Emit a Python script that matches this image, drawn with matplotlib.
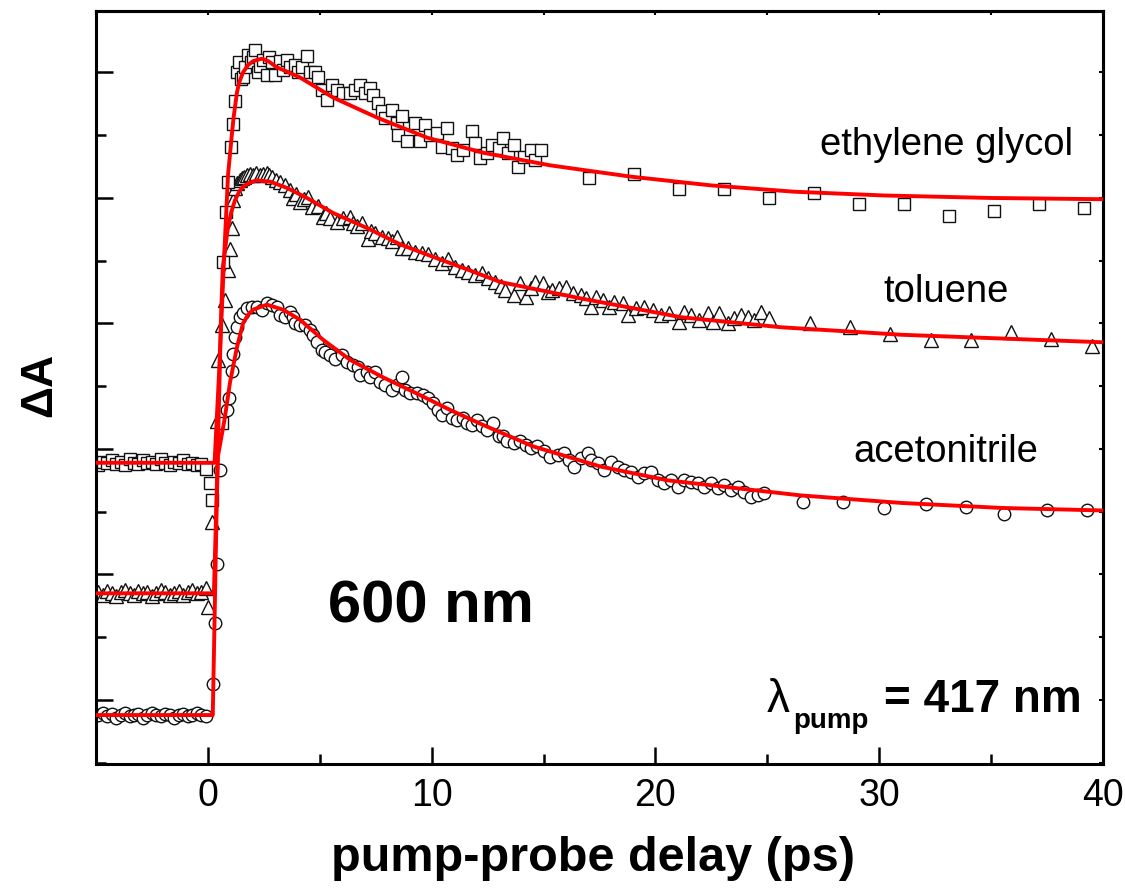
import numpy as np
import matplotlib
matplotlib.use("Agg")
import matplotlib.pyplot as plt
from matplotlib.ticker import MultipleLocator, NullFormatter

plt.rcParams['font.family'] = ['Liberation Sans', 'DejaVu Sans']

# --- data (probe 600 nm) ---
# ethylene glycol (squares)
eg_t = [-4.9, -4.7, -4.5, -4.3, -4.1, -3.9, -3.7, -3.5, -3.3, -3.1, -2.9, -2.7, -2.5,
        -2.3, -2.1, -1.9, -1.7, -1.5, -1.3, -1.1, -0.9, -0.7, -0.5, -0.3, -0.1,
        0.09, 0.18, 0.63, 0.67, 0.81, 0.90, 1.03, 1.12, 1.21, 1.30, 1.39, 1.48, 1.57,
        1.66, 1.79, 1.93, 2.00, 2.10, 2.24, 2.35, 2.46, 2.64, 2.75, 2.87, 3.00, 3.22,
        3.35, 3.54, 3.67, 3.90, 4.05, 4.21, 4.43, 4.57, 4.79, 4.93, 5.10, 5.33, 5.55,
        5.78, 6.05, 6.36, 6.58, 6.81, 7.03, 7.25, 7.39, 7.61, 7.79, 7.93, 8.24, 8.46,
        8.51, 8.69, 8.91, 9.27, 9.49, 9.72, 9.94, 10.26, 10.48, 10.70, 10.93, 11.15,
        11.42, 11.82, 11.96, 12.18, 12.49, 12.72, 12.99, 13.21, 13.43, 13.66, 13.88,
        14.11, 14.42, 14.64, 14.87,
        17.03, 19.05, 21.05, 23.06, 25.07, 27.08, 29.09, 31.10, 33.11, 35.12, 37.13, 39.14]
eg_dA = [1.87, 1.90, 1.89, 1.91, 1.88, 1.90, 1.87, 1.92, 1.89, 1.88, 1.91, 1.89, 1.90,
         1.88, 1.92, 1.89, 1.87, 1.90, 1.89, 1.91, 1.88, 1.89, 1.87, 1.88, 1.84,
         1.73, 1.59, 2.21, 3.49, 3.89, 4.13, 4.41, 4.59, 4.77, 5.00, 5.08, 4.95, 4.96,
         5.04, 5.14, 5.08, 5.12, 5.18, 5.00, 5.05, 5.10, 4.98, 5.12, 5.08, 4.98, 5.09,
         5.02, 5.10, 5.04, 5.06, 5.00, 5.04, 5.13, 5.00, 5.00, 4.96, 4.86, 4.78, 4.90,
         4.86, 4.84, 4.84, 4.86, 4.90, 4.84, 4.88, 4.82, 4.76, 4.69, 4.64, 4.70, 4.60,
         4.50, 4.65, 4.45, 4.60, 4.45, 4.58, 4.50, 4.52, 4.41, 4.56, 4.40, 4.34,
         4.38, 4.53, 4.44, 4.32, 4.36, 4.42, 4.40, 4.48, 4.36, 4.42, 4.25,
         4.33, 4.38, 4.30, 4.38,
         4.16, 4.19, 4.07, 4.07, 4.00, 4.04, 3.95, 3.95, 3.86, 3.90, 3.95, 3.92]

# toluene (triangles)
tol_t = [-4.9, -4.7, -4.5, -4.3, -4.1, -3.9, -3.7, -3.5, -3.3, -3.1, -2.9, -2.7, -2.5,
         -2.3, -2.1, -1.9, -1.7, -1.5, -1.3, -1.1, -0.9, -0.7, -0.5, -0.3, -0.1,
         0.00, 0.18, 0.40, 0.45, 0.63, 0.76, 0.90, 0.99, 1.07, 1.12, 1.21, 1.30, 1.43,
         1.52, 1.63, 1.75, 1.88, 2.02, 2.17, 2.33, 2.48, 2.64, 2.75, 2.87, 3.05, 3.22,
         3.45, 3.67, 3.81, 3.95, 4.12, 4.30, 4.48, 4.66, 4.93, 5.15, 5.30, 5.46, 5.78,
         6.05, 6.36, 6.50, 6.67, 6.90, 7.17, 7.30, 7.48, 7.79, 8.06, 8.25, 8.46, 8.69,
         8.96, 9.27, 9.58, 9.85, 10.17, 10.48, 10.75, 11.06, 11.37, 11.64, 11.96, 12.27,
         12.54, 12.85, 13.10, 13.30, 13.66, 13.97, 14.20, 14.42, 14.64, 14.96, 15.20,
         15.40, 15.67, 15.99, 16.30, 16.66, 16.90, 17.10, 17.33, 17.64, 17.91, 18.14,
         18.54, 18.76, 19.12, 19.48, 19.88, 20.24, 20.60, 21.05, 21.27, 21.59, 21.94,
         22.35, 22.57, 22.84, 23.24, 23.51, 23.82, 24.14, 24.41, 24.72, 25.08,
         26.9, 28.7, 30.5, 32.3, 34.1, 35.9, 37.7, 39.5]
tol_dA = [0.86, 0.84, 0.87, 0.85, 0.83, 0.86, 0.88, 0.85, 0.84, 0.87, 0.85, 0.86, 0.83,
          0.85, 0.88, 0.86, 0.84, 0.85, 0.87, 0.84, 0.86, 0.88, 0.85, 0.86, 0.89,
          0.74, 1.42, 2.22, 2.71, 2.99, 3.19, 3.43, 3.59, 3.76, 3.98, 4.08, 4.12, 4.14,
          4.16, 4.17, 4.18, 4.19, 4.18, 4.20, 4.18, 4.19, 4.20, 4.18, 4.17, 4.14, 4.13,
          4.10, 4.06, 4.00, 4.03, 3.97, 3.99, 4.01, 3.93, 3.94, 3.85, 3.88, 3.84, 3.81,
          3.84, 3.85, 3.80, 3.78, 3.80, 3.67, 3.74, 3.72, 3.69, 3.68, 3.66, 3.69, 3.60,
          3.60, 3.57, 3.56, 3.55, 3.51, 3.48, 3.51, 3.45, 3.43, 3.41, 3.39, 3.40,
          3.36, 3.33, 3.30, 3.27, 3.23, 3.32, 3.21, 3.28, 3.33, 3.32, 3.25,
          3.27, 3.28, 3.29, 3.24, 3.23, 3.20, 3.13, 3.21, 3.19, 3.13, 3.17,
          3.16, 3.07, 3.12, 3.13, 3.11, 3.07, 3.08, 3.01, 3.09, 3.07, 3.03,
          3.08, 3.01, 3.08, 3.00, 3.04, 3.07, 3.05, 3.03, 3.09, 3.04,
          3.00, 2.97, 2.92, 2.87, 2.87, 2.93, 2.88, 2.82]

# acetonitrile (circles)
ace_t = [-4.9, -4.7, -4.5, -4.3, -4.1, -3.9, -3.7, -3.5, -3.3, -3.1, -2.9, -2.7, -2.5,
         -2.3, -2.1, -1.9, -1.7, -1.5, -1.3, -1.1, -0.9, -0.7, -0.5, -0.3, -0.1,
         0.22, 0.31, 0.40, 0.54, 0.85, 0.94, 1.07, 1.12, 1.21, 1.30, 1.43, 1.57, 1.75,
         1.97, 2.19, 2.42, 2.64, 2.87, 3.09, 3.22, 3.45, 3.67, 3.81, 3.90, 4.12, 4.34,
         4.57, 4.70, 4.88, 5.10, 5.24, 5.46, 5.69, 6.00, 6.22, 6.49, 6.72, 6.81, 7.12,
         7.25, 7.48, 7.70, 7.93, 8.24, 8.46, 8.69, 8.80, 9.05, 9.36, 9.63, 9.85, 10.08,
         10.30, 10.48, 10.70, 10.93, 11.15, 11.42, 11.60, 11.82, 12.05, 12.27, 12.49,
         12.76, 12.99, 13.20, 13.39, 13.66, 13.97, 14.20, 14.42, 14.73, 15.00, 15.31,
         15.63, 15.90, 16.12, 16.35, 16.66, 16.97, 17.10, 17.42, 17.69, 18.00, 18.32,
         18.58, 18.90, 19.21, 19.48, 19.79, 20.10, 20.38, 20.69, 21.00, 21.27, 21.59,
         21.90, 22.17, 22.48, 22.79, 23.06, 23.38, 23.69, 23.96, 24.27, 24.59, 24.85,
         26.6, 28.4, 30.2, 32.1, 33.9, 35.6, 37.5, 39.3]
ace_dA = [-0.12, -0.10, -0.13, -0.11, -0.14, -0.12, -0.10, -0.13, -0.12, -0.11, -0.14,
          -0.12, -0.10, -0.12, -0.13, -0.11, -0.12, -0.14, -0.12, -0.11, -0.13, -0.12,
          -0.10, -0.12, -0.13,
          0.13, 0.61, 1.08, 1.83, 2.31, 2.41, 2.62, 2.76, 2.89, 2.97, 3.05, 3.08, 3.12,
          3.13, 3.13, 3.11, 3.16, 3.15, 3.13, 3.07, 3.05, 3.09, 3.05, 3.00, 2.99, 2.99,
          2.95, 2.91, 2.85, 2.79, 2.77, 2.75, 2.72, 2.75, 2.69, 2.67, 2.65, 2.59, 2.61,
          2.57, 2.61, 2.53, 2.51, 2.47, 2.51, 2.57, 2.47, 2.45, 2.45, 2.43, 2.41, 2.37,
          2.31, 2.27, 2.33, 2.25, 2.23, 2.25, 2.21, 2.19, 2.23, 2.18, 2.15,
          2.21, 2.10, 2.10, 2.06, 2.05, 2.06, 2.03, 2.01, 2.02, 1.98, 1.94,
          1.95, 1.97, 1.91, 1.86, 1.93, 1.97, 1.91, 1.89, 1.83, 1.90, 1.86,
          1.83, 1.82, 1.78, 1.81, 1.82, 1.75, 1.73, 1.75, 1.70, 1.75, 1.74,
          1.73, 1.70, 1.73, 1.69, 1.71, 1.67, 1.70, 1.66, 1.62, 1.63, 1.65,
          1.58, 1.58, 1.53, 1.56, 1.54, 1.48, 1.51, 1.51]

# fitted curves (red)
eg_fit_t = [-5, 0.30, 0.50, 0.72, 0.90, 1.07, 1.15, 1.30, 1.40, 1.57, 1.80, 2.02, 2.20,
            2.42, 2.70, 3.09, 3.50, 4.12, 5.60, 7.57, 9.81, 12.32, 15.3, 18.9, 22.5,
            26.2, 30.2, 35.0, 40]
eg_fit_dA = [1.89, 1.89, 2.60, 3.50, 4.18, 4.50, 4.64, 4.84, 4.92, 5.00, 5.06, 5.09, 5.10,
             5.11, 5.09, 5.04, 5.01, 4.96, 4.80, 4.64, 4.48, 4.36, 4.26, 4.17, 4.10,
             4.05, 4.02, 4.00, 3.99]

tol_fit_t = [-5, 0.27, 0.45, 0.58, 0.67, 0.90, 1.05, 1.21, 1.40, 1.57, 1.85, 2.19, 2.78,
             3.54, 4.43, 5.60, 7.12, 8.60, 10.08, 11.6, 13.08, 16.66, 21.14, 25.6, 31.0,
             35.5, 40]
tol_fit_dA = [0.85, 0.85, 2.00, 3.00, 3.45, 3.77, 3.89, 3.98, 4.05, 4.09, 4.12, 4.14, 4.13,
              4.08, 4.00, 3.88, 3.76, 3.63, 3.53, 3.43, 3.33, 3.20, 3.05, 2.97, 2.91,
              2.88, 2.85]

ace_fit_t = [-5, 0.22, 0.40, 0.45, 0.76, 0.99, 1.30, 1.57, 1.80, 2.02, 2.64, 3.36, 4.12,
             5.15, 6.36, 7.84, 9.36, 10.84, 12.32, 14.55, 17.55, 20.56, 23.51, 26.5, 31.0,
             35.5, 40]
ace_fit_dA = [-0.12, -0.12, 1.59, 1.94, 2.25, 2.53, 2.81, 3.00, 3.07, 3.11, 3.15, 3.11,
              3.03, 2.87, 2.71, 2.57, 2.44, 2.31, 2.19, 2.02, 1.86, 1.75, 1.69, 1.63,
              1.57, 1.53, 1.51]

solvents = ['ethylene glycol', 'toluene', 'acetonitrile']
label_dA = [4.34, 3.17, 1.90]

fig = plt.figure(figsize=(11.25, 8.92), dpi=100)
ax = fig.add_axes([0.0853, 0.1435, 0.8951, 0.8442])

mk = dict(linestyle='none', markerfacecolor='white', markeredgecolor='#111111',
          markeredgewidth=1.0, zorder=2)
ax.plot(ace_t, ace_dA, marker='o', markersize=9, **mk)
ax.plot(tol_t, tol_dA, marker='^', markersize=9.5, **mk)
ax.plot(eg_t, eg_dA, marker='s', markersize=8.3, **mk)

for ft, fy in [(eg_fit_t, eg_fit_dA), (tol_fit_t, tol_fit_dA), (ace_fit_t, ace_fit_dA)]:
    ax.plot(ft, fy, color='#ff0000', lw=2.8, zorder=3, solid_joinstyle='round')

for name, yy in zip(solvents, label_dA):
    ax.text(33.0, yy, name, fontsize=27.5, ha='center', va='baseline')

ax.text(5.37, 0.62, '600 nm', fontsize=43, fontweight='bold', ha='left', va='baseline')
ax.text(24.99, -0.096, '\u03bb', fontsize=33, ha='left', va='baseline')
ax.text(26.15, -0.223, 'pump', fontsize=20, fontweight='bold', ha='left', va='baseline')
ax.text(30.23, -0.096, '= 417 nm', fontsize=33, fontweight='bold', ha='left', va='baseline')

ax.set_xlim(-5, 40)
ax.set_ylim(-0.51, 5.49)

ax.xaxis.set_major_locator(MultipleLocator(10))
ax.xaxis.set_minor_locator(MultipleLocator(5))
ax.yaxis.set_major_locator(MultipleLocator(1))
ax.yaxis.set_minor_locator(MultipleLocator(0.5))
ax.yaxis.set_major_formatter(NullFormatter())

ax.tick_params(which='both', direction='in', width=1.8, top=False, right=False)
ax.tick_params(which='major', length=12.5)
ax.tick_params(which='minor', length=7)
ax.tick_params(axis='x', labelsize=27, pad=10)
for s in ax.spines.values():
    s.set_linewidth(2.2)

# small ticks on the top and right frame
sx = ax.secondary_xaxis('top')
sx.xaxis.set_major_locator(MultipleLocator(10))
sx.xaxis.set_minor_locator(MultipleLocator(5))
sx.tick_params(which='both', direction='in', length=3, width=1.5, labeltop=False)
sy = ax.secondary_yaxis('right')
sy.yaxis.set_major_locator(MultipleLocator(1))
sy.yaxis.set_minor_locator(MultipleLocator(0.5))
sy.tick_params(which='both', direction='in', length=3, width=1.5, labelright=False)
for s in list(sx.spines.values()) + list(sy.spines.values()):
    s.set_linewidth(2.2)

fig.text(0.527, 0.038, 'pump-probe delay (ps)', fontsize=35, fontweight='bold',
         ha='center', va='center')
fig.text(0.0356, 0.568, '\u0394A', fontsize=32, fontweight='bold', rotation=90,
         ha='center', va='center')

fig.savefig('out.png', dpi=100)
